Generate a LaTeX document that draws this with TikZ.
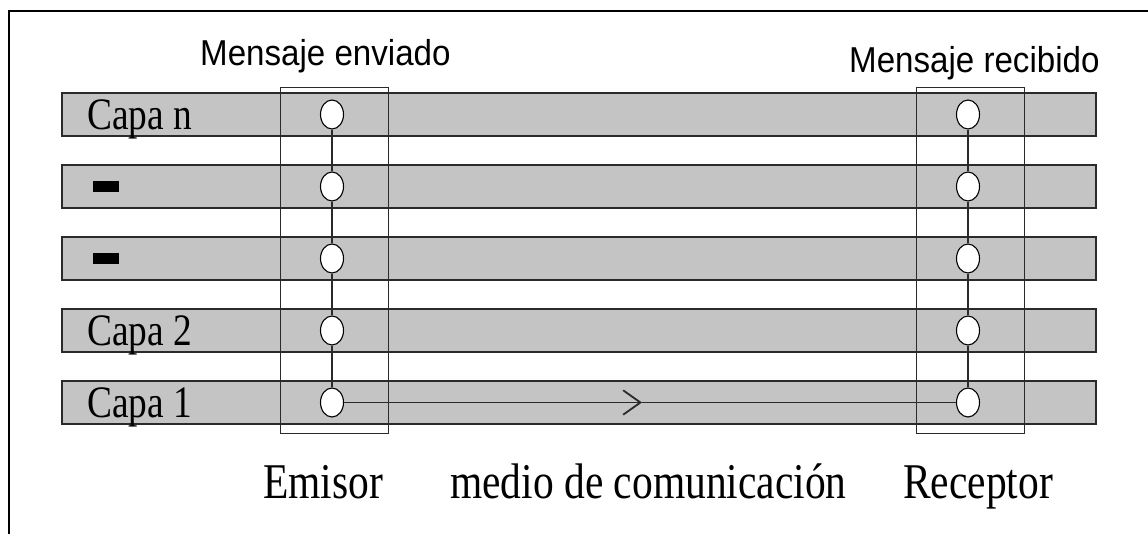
\documentclass[tikz,border=0pt]{standalone}
\usepackage{fontspec}
\setmainfont{Liberation Serif}[FakeStretch=0.83]
\setsansfont{Liberation Sans}[FakeStretch=0.92]
\usetikzlibrary{shapes.geometric, arrows.meta}
\definecolor{my gray}{HTML}{C4C4C4}
\definecolor{my dark}{HTML}{2A2A2A}

\begin{document}
\begin{tikzpicture}[x=1pt, y=-1pt,
    layer bar/.style={fill=my gray, draw=my dark, line width=1.3pt},
    stack box/.style={draw=my dark, line width=1pt},
    layer dot/.style={ellipse, draw, fill=white, line width=1.1pt, minimum width=23pt, minimum height=29pt, inner sep=0pt},
    link/.style={line width=1.8pt, my dark},
    big label/.style={anchor=base west, inner sep=0pt, font=\fontsize{50}{50}\selectfont},
    capa label/.style={anchor=base west, inner sep=0pt, font=\fontsize{45}{45}\selectfont},
    top label/.style={anchor=base west, inner sep=0pt, font=\sffamily\fontsize{36}{36}\selectfont}]
    \useasboundingbox (0, 0) rectangle (1148, 534);
    \draw [line width=2.2pt] (9, 534) -- (9, 11) -- (1148, 11);
    % the five layers
    \foreach \i in {1, ..., 5}
        \draw [layer bar] (62, {381 - (\i - 1)*72}) rectangle (1096, {424 - (\i - 1)*72});
    \node [capa label] (capa1) at (87, 417.5) {Capa 1};
    \node [capa label] (capa2) at (87, 345.5) {Capa 2};
    \node [capa label] (capan) at (87, 129.5) {Capa n};
    \node [inner sep=0pt, fill=black, minimum width=26pt, minimum height=10.5pt] (dash3) at (106, 258.5) {};
    \node [inner sep=0pt, fill=black, minimum width=26pt, minimum height=10.5pt] (dash4) at (106, 186.5) {};
    \draw [stack box] (280, 88) rectangle (388, 433);
    \draw [stack box] (916, 88) rectangle (1024, 433);
    \foreach \i in {1, ..., 5} {
        \node [layer dot] (e\i) at (332, {402.5 - (\i - 1)*72}) {};
        \node [layer dot] (r\i) at (968, {402.5 - (\i - 1)*72}) {};
    }
    \foreach \i [evaluate=\i as \j using int(\i + 1)] in {1, ..., 4} {
        \draw [link] (e\i) -- (e\j);
        \draw [link] (r\i) -- (r\j);
    }
    \coordinate (mid) at (642, 402.5);
    \draw [link, -{Straight Barb[length=17pt, width=24pt, line cap=round]}] (e1) -- (mid);
    \draw [link] (mid) -- (r1);
    \node [top label] (sent) at (200, 66) {Mensaje enviado};
    \node [top label] (received) at (849, 73) {Mensaje recibido};
    \node [big label] (emisor) at (263, 498) {Emisor};
    \node [big label] (medio) at (450, 498) {medio de comunicación};
    \node [big label] (receptor) at (903, 498) {Receptor};
\end{tikzpicture}
\end{document}
